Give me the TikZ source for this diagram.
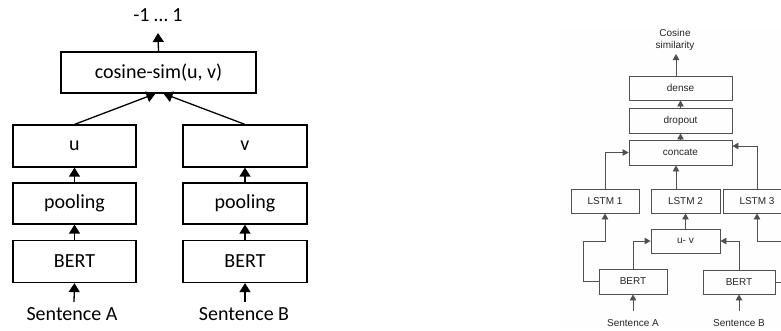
\documentclass[tikz,border=0pt]{standalone}
\usepackage{fontspec}
\setmainfont{Carlito}
\newfontfamily\arialfont{Liberation Sans}
\usetikzlibrary{arrows.meta}
\definecolor{rline}{RGB}{80,80,80}
\definecolor{rtext}{RGB}{38,38,38}
\definecolor{rbg}{RGB}{254,254,254}
\tikzset{
  lbox/.style={draw=black, line width=1.2pt, rectangle, inner sep=0pt,
    font=\fontsize{20}{24}\selectfont},
  ltext/.style={inner sep=0pt, font=\fontsize{20}{24}\selectfont},
  larr/.style={draw=black, line width=1.3pt, -{Triangle[length=9pt,width=11pt]}},
  rbox/.style={draw=rline, line width=0.9pt, rectangle, inner sep=0pt,
    minimum height=24pt, text=rtext, font=\arialfont\fontsize{10}{12}\selectfont},
  rtxt/.style={inner sep=0pt, text=rtext, font=\arialfont\fontsize{10}{12}\selectfont},
  rarr/.style={draw=rline, line width=0.9pt, -{Triangle[length=6pt,width=6.5pt]}}
}
\begin{document}
\begin{tikzpicture}[x=1pt,y=-1pt]
\useasboundingbox (0,0) rectangle (781,330);
\clip (0,0) rectangle (781,330);

% ---------- left: siamese BERT with cosine similarity ----------
\node[ltext] (range) at (158,15) {-1 … 1};
\coordinate (rangetip) at (158,33);
\node[lbox, minimum width=195pt, minimum height=41pt] (cos) at (158.5,72.5) {cosine-sim(u, v)};

\node[lbox, minimum width=123pt, minimum height=42pt] (u) at (74.5,146) {u};
\node[lbox, minimum width=124pt, minimum height=42pt] (v) at (245,146) {v};
\node[lbox, minimum width=123pt, minimum height=41pt] (poolA) at (74.5,203.5) {pooling};
\node[lbox, minimum width=124pt, minimum height=41pt] (poolB) at (245,203.5) {pooling};
\node[lbox, minimum width=123pt, minimum height=42pt] (bertLA) at (74.5,261.5) {BERT};
\node[lbox, minimum width=124pt, minimum height=42pt] (bertLB) at (245,261.5) {BERT};
\node[ltext] (sentLA) at (72,314) {Sentence A};
\node[ltext] (sentLB) at (244,314) {Sentence B};
\coordinate (sLA) at (74,302);
\coordinate (sLB) at (245,302);

\draw[larr] (cos.north) -- (rangetip);
\draw[larr] (u.north) -- ([xshift=-3pt]cos.south);
\draw[larr] (v.north) -- ([xshift=5pt]cos.south);
\draw[larr] (poolA) -- (u);
\draw[larr] (poolB) -- (v);
\draw[larr] (bertLA) -- (poolA);
\draw[larr] (bertLB) -- (poolB);
\draw[larr] (sLA) -- (bertLA.south);
\draw[larr] (sLB) -- (bertLB.south);

% ---------- right: BERT + LSTM model ----------
\fill[rbg] (560,28) rectangle (781,330);

\node[rtxt, align=center] (title) at (675,40) {Cosine\\similarity};
\coordinate (titletip) at (676,54);
\node[rbox, minimum width=103pt] (dense) at (680.5,88) {dense};
\node[rbox, minimum width=103pt, minimum height=25pt] (dropout) at (680.5,120.5) {dropout};
\node[rbox, minimum width=103pt, minimum height=25pt] (concate) at (680.5,152.5) {concate};

\node[rbox, minimum width=68pt] (lstm1) at (605,201) {LSTM 1};
\node[rbox, minimum width=69pt] (lstm2) at (685.5,201) {LSTM 2};
\node[rbox, minimum width=68pt] (lstm3) at (757,201) {LSTM 3};
\node[rbox, minimum width=69pt] (uv) at (685.5,241) {u- v};
\node[rbox, minimum width=68pt, minimum height=25pt] (bertRA) at (633,281.5) {BERT};
\node[rbox, minimum width=72pt] (bertRB) at (739,282) {BERT};
\node[rtxt] (sentRA) at (633,323) {Sentence A};
\node[rtxt] (sentRB) at (739,323) {Sentence B};
\coordinate (sRA) at (633,311);
\coordinate (sRB) at (739,311);

% bend points of the routed connectors
\coordinate (aLeft) at (583,241);
\coordinate (bRight) at (792,282);
\coordinate (bUp) at (792,241);

\draw[rarr] ([xshift=-4.5pt]dense.north) -- (titletip);
\draw[rarr] (dropout) -- (dense);
\draw[rarr] (concate) -- (dropout);
\draw[rarr] ([xshift=-9.5pt]lstm2.north) -- ([xshift=-4.5pt]concate.south);
\draw[rarr] (lstm1.north) |- (concate.west);
\draw[rarr] (lstm3.north) |- ([yshift=6.5pt]concate.east);
\draw[rarr] (uv) -- (lstm2);
\draw[rarr] (bertRA.north) |- (uv.west);
\draw[rarr] (bertRB.north) |- (uv.east);
\draw[rarr] (bertRA.west) -| (aLeft) -| (lstm1.south);
\draw[rarr] (bertRB.east) -- (bRight) -- (bUp) -| (lstm3.south);
\draw[rarr] (sRA) -- (bertRA.south);
\draw[rarr] (sRB) -- (bertRB.south);
\end{tikzpicture}
\end{document}
